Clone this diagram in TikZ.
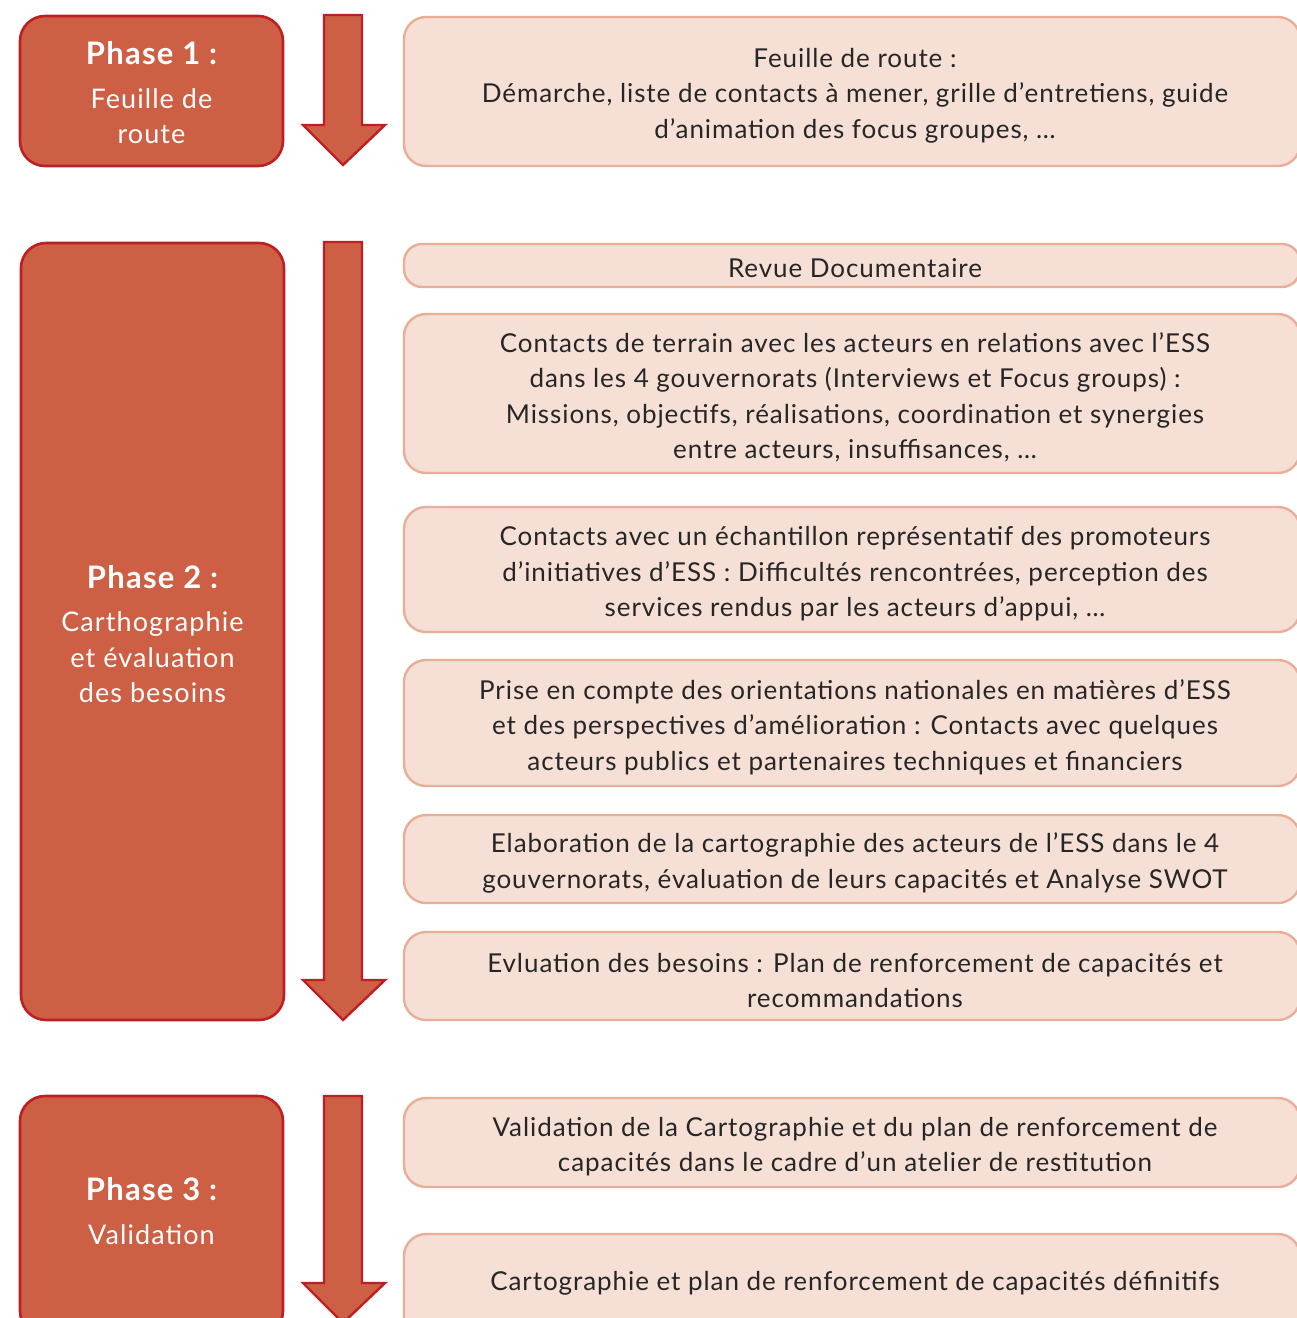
\documentclass[tikz,border=0pt]{standalone}
\usepackage{fontspec}
\setmainfont{Lato}
\newfontfamily\stepfont[LetterSpace=3.6]{Lato}
\newfontfamily\phasefont[LetterSpace=4.0]{Lato}
\definecolor{phasefill}{HTML}{CD5F45}
\definecolor{phaseline}{HTML}{BE1E24}
\definecolor{stepfill}{HTML}{F6DFD5}
\definecolor{stepline}{HTML}{E8AE97}
\definecolor{steptext}{HTML}{262626}
\tikzset{
  phasebox/.style={draw=phaseline, line width=2.6pt, fill=phasefill, rounded corners=25pt, inner sep=0pt},
  phasetext/.style={text=white, align=center, inner sep=0pt,
    font=\phasefont\fontsize{27}{35.5}\selectfont},
  stepbox/.style={draw=stepline, line width=2.4pt, fill=stepfill, rounded corners=22pt,
    minimum width=896pt, inner sep=0pt},
  steptext/.style={text=steptext, align=center, inner sep=0pt,
    font=\stepfont\fontsize{26}{35.5}\selectfont},
  flowarrow/.style={draw=phaseline, line width=2.4pt, fill=phasefill, line join=miter}
}
\newcommand{\phasetitle}[1]{{\fontsize{31}{44}\selectfont\bfseries #1}}
\begin{document}
\begin{tikzpicture}[x=1pt,y=-1pt]
\useasboundingbox (0,0) rectangle (1297,1318);
% ---------- phase boxes
\node[phasebox, minimum width=263pt, minimum height=150pt] (p1) at (151.5,91) {};
\node[phasetext] (p1t) at (151.5,93)
  {\phasetitle{Phase 1 :}\\[8pt]Feuille de\\route};
\node[phasebox, minimum width=263pt, minimum height=777pt] (p2) at (152.5,631.5) {};
\node[phasetext] (p2t) at (152.5,634)
  {\phasetitle{Phase 2 :}\\[8pt]Carthographie\\et évaluation\\des besoins};
\node[phasebox, minimum width=263pt, minimum height=240pt] (p3) at (151.5,1216) {};
\node[phasetext] (p3t) at (151.5,1211)
  {\phasetitle{Phase 3 :}\\[8pt]Validation};
% ---------- arrows
\draw[flowarrow] (324,15) -- (362,15) -- (362,125) -- (385,125) -- (343,165) -- (303,125) -- (324,125) -- cycle;
\draw[flowarrow] (324,242) -- (362,242) -- (362,980) -- (385,980) -- (343,1020) -- (303,980) -- (324,980) -- cycle;
\draw[flowarrow] (324,1096) -- (362,1096) -- (362,1283) -- (385,1283) -- (343,1323) -- (303,1283) -- (324,1283) -- cycle;
% ---------- step boxes
\node[stepbox, minimum height=149pt] (s1) at (852,91.5) {};
\node[steptext] (s1t) at (855,95.5)
  {Feuille de route :\\Démarche, liste de contacts à mener, grille d’entretiens, guide\\d’animation des focus groupes, …};
\node[stepbox, minimum height=43pt, rounded corners=18pt] (s2) at (852,265.5) {};
\node[steptext] (s2t) at (855,268.5) {Revue Documentaire};
\node[stepbox, minimum height=159pt] (s3) at (852,393.5) {};
\node[steptext] (s3t) at (855,397.5)
  {Contacts de terrain avec les acteurs en relations avec l’ESS\\dans les 4 gouvernorats (Interviews et Focus groups) :\\Missions, objectifs, réalisations, coordination et synergies\\entre acteurs, insuffisances, …};
\node[stepbox, minimum height=125pt] (s4) at (852,569.5) {};
\node[steptext] (s4t) at (855,574)
  {Contacts avec un échantillon représentatif des promoteurs\\d’initiatives d’ESS : Difficultés rencontrées, perception des\\services rendus par les acteurs d’appui, …};
\node[stepbox, minimum height=126pt] (s5) at (852,723) {};
\node[steptext] (s5t) at (855,727)
  {Prise en compte des orientations nationales en matières d’ESS\\et des perspectives d’amélioration : Contacts avec quelques\\acteurs publics et partenaires techniques et financiers};
\node[stepbox, minimum height=88pt] (s6) at (852,859) {};
\node[steptext] (s6t) at (855,863)
  {Elaboration de la cartographie des acteurs de l’ESS dans le 4\\gouvernorats, évaluation de leurs capacités et Analyse SWOT};
\node[stepbox, minimum height=88pt] (s7) at (852,976) {};
\node[steptext] (s7t) at (855,980.5)
  {Evluation des besoins : Plan de renforcement de capacités et\\recommandations};
\node[stepbox, minimum height=89pt] (s8) at (852,1142.5) {};
\node[steptext] (s8t) at (855,1146.5)
  {Validation de la Cartographie et du plan de renforcement de\\capacités dans le cadre d’un atelier de restitution};
\node[stepbox, minimum height=110pt] (s9) at (852,1289) {};
\node[steptext] (s9t) at (855,1283)
  {Cartographie et plan de renforcement de capacités définitifs};
\end{tikzpicture}
\end{document}
